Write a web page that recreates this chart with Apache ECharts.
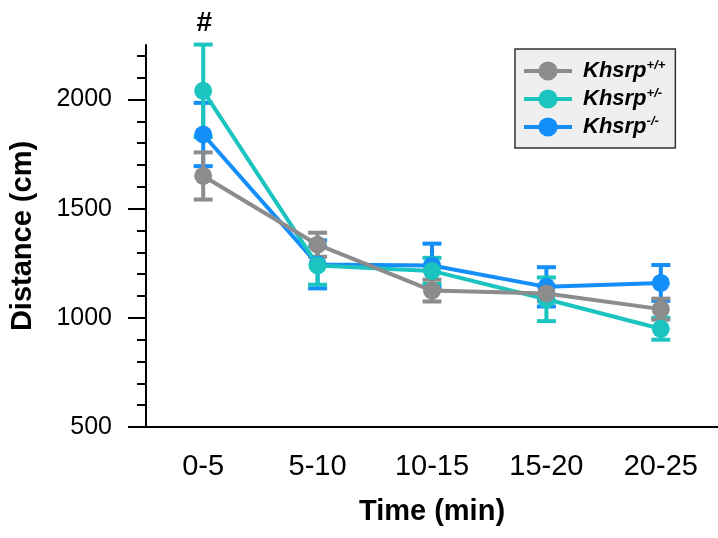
<!DOCTYPE html>
<html>
<head>
<meta charset="utf-8">
<script src="https://cdn.jsdelivr.net/npm/echarts@6/dist/echarts.min.js"></script>
<style>
  html, body { margin: 0; padding: 0; background: #ffffff; }
  #chart { width: 718px; height: 538px; }
</style>
</head>
<body>
<div id="chart"></div>
<script>
// Time bins (min)
const timeBins = ['0-5', '5-10', '10-15', '15-20', '20-25'];

// Genotype labels (superscripts) and colours
const gene = 'Khsrp';
const genotypes = ['+/+', '+/-', '-/-'];
const colors = ['#8c8c8c', '#1cc4bf', '#148ef9'];

// Mean distance travelled per bin (cm)
const meanWT  = [1650, 1335, 1125, 1112, 1040];
const meanHet = [2040, 1240, 1215, 1085, 950];
const meanKO  = [1840, 1245, 1240, 1142, 1160];

// Standard error of the mean (cm)
const semWT  = [108, 55, 50, 35, 48];
const semHet = [212, 88, 60, 100, 50];
const semKO  = [145, 110, 100, 90, 82];

// Significance marks shown above the Khsrp+/- bars
const sigHet = ['#', '', '', '', ''];

// Y axis ticks
const yMajor = [500, 1000, 1500, 2000];
const yMinor = [600, 700, 800, 900, 1100, 1200, 1300, 1400, 1600, 1700, 1800, 1900, 2100, 2200];

const font = '"Liberation Sans", Arial, Helvetica, sans-serif';
const lineW = 4;

function errorBars(name, color, means, sems, marks) {
  return {
    type: 'custom',
    name: name + ' SEM',
    data: means.map((m, i) => [i, m, sems[i]]),
    renderItem: function (params, api) {
      const x = api.value(0);
      const m = api.value(1);
      const s = api.value(2);
      const mark = marks ? marks[params.dataIndex] : '';
      const top = api.coord([x, m + s]);
      const bot = api.coord([x, m - s]);
      const half = 9.5;
      const style = { stroke: color, lineWidth: lineW };
      const children = [
        { type: 'line', shape: { x1: top[0], y1: top[1], x2: bot[0], y2: bot[1] }, style: style },
        { type: 'line', shape: { x1: top[0] - half, y1: top[1], x2: top[0] + half, y2: top[1] }, style: style },
        { type: 'line', shape: { x1: bot[0] - half, y1: bot[1], x2: bot[0] + half, y2: bot[1] }, style: style }
      ];
      if (mark) {
        children.push({
          type: 'text',
          style: {
            text: mark, x: top[0] + 1, y: top[1] - 7,
            align: 'center', verticalAlign: 'bottom',
            fill: '#000', font: 'bold 28px ' + font
          }
        });
      }
      return { type: 'group', children: children };
    },
    silent: true,
    z: 2
  };
}

function lineSeries(name, color, means) {
  return {
    type: 'line',
    name: name,
    data: means,
    symbol: 'circle',
    symbolSize: 18,
    lineStyle: { color: color, width: lineW },
    itemStyle: { color: color },
    z: 2
  };
}

const names = genotypes.map(g => gene + g);

const option = {
  animation: false,
  backgroundColor: '#ffffff',
  grid: { left: 146, right: 0, top: 45, bottom: 111 },
  legend: {
    data: names,
    orient: 'vertical',
    left: 515,
    top: 49,
    backgroundColor: '#efefef',
    borderColor: '#333333',
    borderWidth: 1.5,
    borderRadius: 0,
    padding: [10, 10, 10, 7],
    itemWidth: 48,
    itemHeight: 24,
    itemGap: 5,
    lineStyle: { width: lineW },
    formatter: function (n) {
      return '{k|' + gene + '}{s|' + n.slice(gene.length) + '}';
    },
    textStyle: {
      rich: {
        k: { fontFamily: font, fontSize: 22, fontWeight: 'bold', fontStyle: 'italic', color: '#000', lineHeight: 24, padding: [0, 0, 0, 6] },
        s: { fontFamily: font, fontSize: 13, fontWeight: 'bold', fontStyle: 'italic', color: '#000', verticalAlign: 'top', lineHeight: 14 }
      }
    }
  },
  xAxis: {
    type: 'category',
    data: timeBins,
    boundaryGap: true,
    name: 'Time (min)',
    nameLocation: 'middle',
    nameGap: 70,
    nameTextStyle: { fontFamily: font, fontSize: 29, fontWeight: 'bold', color: '#000' },
    axisLine: { lineStyle: { color: '#000', width: 2 } },
    axisTick: { alignWithLabel: true, length: 18, lineStyle: { color: '#000', width: 2 } },
    axisLabel: { fontFamily: font, fontSize: 29, color: '#000', margin: 25 },
    splitLine: { show: false }
  },
  yAxis: [
    {
      type: 'value',
      min: 500,
      max: 2250,
      interval: 500,
      name: 'Distance (cm)',
      nameLocation: 'middle',
      nameGap: 109,
      nameTextStyle: { fontFamily: font, fontSize: 29, fontWeight: 'bold', color: '#000' },
      axisLine: { show: true, lineStyle: { color: '#000', width: 2 } },
      axisTick: { show: true, length: 18, customValues: yMajor, lineStyle: { color: '#000', width: 2 } },
      axisLabel: {
        fontFamily: font, fontSize: 25, color: '#000', margin: 34, customValues: yMajor,
        formatter: function (v) { return String(v); }
      },
      splitLine: { show: false }
    },
    {
      type: 'value',
      min: 500,
      max: 2250,
      interval: 100,
      position: 'left',
      axisLine: { show: false },
      axisTick: { show: true, length: 9, customValues: yMinor, lineStyle: { color: '#000', width: 2 } },
      axisLabel: { show: false },
      splitLine: { show: false }
    }
  ],
  series: [
    errorBars(names[2], colors[2], meanKO, semKO, null),
    lineSeries(names[2], colors[2], meanKO),
    errorBars(names[1], colors[1], meanHet, semHet, sigHet),
    lineSeries(names[1], colors[1], meanHet),
    errorBars(names[0], colors[0], meanWT, semWT, null),
    lineSeries(names[0], colors[0], meanWT)
  ]
};

const chart = echarts.init(document.getElementById('chart'), null, { renderer: 'canvas' });
chart.setOption(option);
</script>
</body>
</html>
